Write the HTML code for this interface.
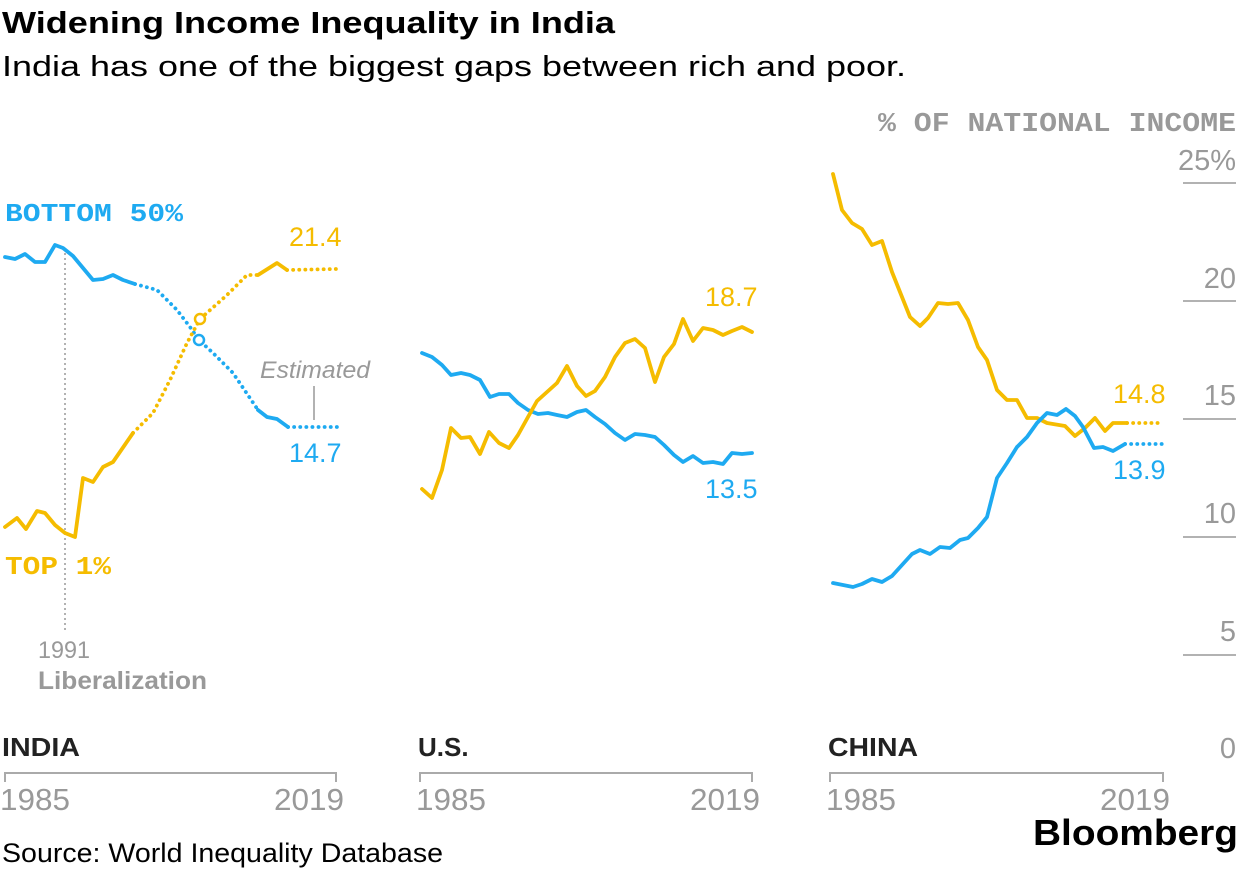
<!DOCTYPE html>
<html><head><meta charset="utf-8"><style>
html,body{margin:0;padding:0;background:#fff;width:1240px;height:870px;overflow:hidden}
text{font-family:"Liberation Sans",sans-serif}
.m{font-family:"Liberation Mono",monospace;font-weight:bold}
</style></head><body>
<svg width="1240" height="870" viewBox="0 0 1240 870" xmlns="http://www.w3.org/2000/svg">
<text x="2" y="33" font-size="31" font-weight="bold" fill="#000" textLength="613" lengthAdjust="spacingAndGlyphs">Widening Income Inequality in India</text>
<text x="2" y="76" font-size="29" fill="#000" textLength="904" lengthAdjust="spacingAndGlyphs">India has one of the biggest gaps between rich and poor.</text>
<text x="1236" y="131" font-size="27" class="m" fill="#999" text-anchor="end" font-weight="normal" textLength="358" lengthAdjust="spacingAndGlyphs">% OF NATIONAL INCOME</text>
<g fill="#999" font-size="29" text-anchor="end">
<text x="1236" y="170">25%</text><text x="1236" y="288">20</text><text x="1236" y="405">15</text><text x="1236" y="523">10</text><text x="1236" y="641">5</text><text x="1236" y="758">0</text>
</g>
<g stroke="#999" stroke-width="1.5">
<line x1="1183" y1="183" x2="1236" y2="183"/><line x1="1183" y1="301" x2="1236" y2="301"/><line x1="1183" y1="419" x2="1236" y2="419"/><line x1="1183" y1="537" x2="1236" y2="537"/><line x1="1183" y1="655" x2="1236" y2="655"/>
</g>
<g stroke="#aaa" stroke-width="2" fill="none">
<path d="M5 782V773H336V782"/><path d="M420 782V773H752V782"/><path d="M830 782V773H1163V782"/>
</g>
<g fill="#999" font-size="31">
<text x="0" y="810" textLength="70" lengthAdjust="spacingAndGlyphs">1985</text><text x="344" y="810" text-anchor="end" textLength="70" lengthAdjust="spacingAndGlyphs">2019</text>
<text x="416" y="810" textLength="70" lengthAdjust="spacingAndGlyphs">1985</text><text x="760" y="810" text-anchor="end" textLength="70" lengthAdjust="spacingAndGlyphs">2019</text>
<text x="826" y="810" textLength="70" lengthAdjust="spacingAndGlyphs">1985</text><text x="1170" y="810" text-anchor="end" textLength="70" lengthAdjust="spacingAndGlyphs">2019</text>
</g>
<g fill="#222" font-size="26" font-weight="bold">
<text x="2" y="756" textLength="78" lengthAdjust="spacingAndGlyphs">INDIA</text><text x="418" y="756">U.S.</text><text x="828" y="756" textLength="90" lengthAdjust="spacingAndGlyphs">CHINA</text>
</g>
<text x="2" y="862" font-size="27" fill="#000" textLength="441" lengthAdjust="spacingAndGlyphs">Source: World Inequality Database</text>
<text x="1238" y="845" font-size="36" font-weight="bold" fill="#000" text-anchor="end" textLength="205" lengthAdjust="spacingAndGlyphs">Bloomberg</text>
<line x1="65" y1="248" x2="65" y2="630" stroke="#999" stroke-width="1.5" stroke-dasharray="2 3"/>
<text x="38" y="658" font-size="24" fill="#999" textLength="52" lengthAdjust="spacingAndGlyphs">1991</text>
<text x="38" y="689" font-size="25" font-weight="bold" fill="#999" textLength="169" lengthAdjust="spacingAndGlyphs">Liberalization</text>
<text x="5" y="221" font-size="26" class="m" fill="#1eaaf1" textLength="178" lengthAdjust="spacingAndGlyphs">BOTTOM 50%</text>
<text x="5" y="574" font-size="26" class="m" fill="#f5bc00" textLength="106" lengthAdjust="spacingAndGlyphs">TOP 1%</text>
<text x="260" y="378" font-size="24" font-style="italic" fill="#999" textLength="110" lengthAdjust="spacingAndGlyphs">Estimated</text>
<line x1="314" y1="386" x2="314" y2="420" stroke="#999" stroke-width="1.5"/>
<text x="289" y="246" font-size="27" fill="#f5bc00">21.4</text>
<text x="289" y="462" font-size="27" fill="#1eaaf1">14.7</text>
<g fill="none" stroke-width="3.8" stroke-linejoin="round" stroke-linecap="round">
<polyline stroke="#1eaaf1" points="5,257 15,259 25,254 35,262 45,262 55,245 63,248 73,256 93,280 103,279 113,275 123,280 135,284"/>
<polyline stroke="#1eaaf1" stroke-dasharray="0.1 6" points="135,284 157,290 177,310 190,327 199,340 213,353 233,373 258,410"/>
<polyline stroke="#1eaaf1" points="258,410 267,417 277,419 288,427"/>
<polyline stroke="#1eaaf1" stroke-dasharray="0.1 6" points="288,427 337,427"/>
<polyline stroke="#f5bc00" points="5,527 17,518 26,529 37,511 45,513 55,525 65,533 75,537 83,478 93,482 103,467 113,462 133,433"/>
<polyline stroke="#f5bc00" stroke-dasharray="0.1 6" points="133,433 153,413 170,380 187,343 200,319 227,295 247,275 258,275"/>
<polyline stroke="#f5bc00" points="258,275 277,263 287,270"/>
<polyline stroke="#f5bc00" stroke-dasharray="0.1 6" points="287,270 337,269"/>
</g>
<circle cx="200" cy="319" r="5" fill="#fff" stroke="#f5bc00" stroke-width="2.5"/>
<circle cx="199" cy="340" r="5" fill="#fff" stroke="#1eaaf1" stroke-width="2.5"/>
<text x="705" y="306" font-size="27" fill="#f5bc00">18.7</text>
<text x="705" y="498" font-size="27" fill="#1eaaf1">13.5</text>
<g fill="none" stroke-width="3.8" stroke-linejoin="round" stroke-linecap="round">
<polyline stroke="#1eaaf1" points="422,353 432,357 442,365 451,375 461,373 470,375 480,380 490,397 499,394 509,394 518,403 528,410 538,414 548,413 557,415 567,417 577,412 586,410 595,417 605,424 615,433 625,440 635,434 645,435 655,437 664,445 674,455 683,462 693,456 703,463 713,462 723,464 732,453 742,454 752,453"/>
<polyline stroke="#f5bc00" points="422,489 432,498 442,470 451,428 461,438 470,437 480,454 489,432 499,443 509,448 518,435 528,417 537,401 547,392 557,383 567,366 577,386 586,396 595,391 605,377 615,357 625,343 635,339 645,348 655,382 664,357 674,344 683,319 693,341 703,328 713,330 723,335 732,331 742,327 752,332"/>
</g>
<text x="1113" y="403" font-size="27" fill="#f5bc00">14.8</text>
<text x="1113" y="479" font-size="27" fill="#1eaaf1">13.9</text>
<g fill="none" stroke-width="3.8" stroke-linejoin="round" stroke-linecap="round">
<polyline stroke="#f5bc00" points="833,174 842,210 852,223 862,229 872,245 882,241 892,272 910,317 920,326 928,318 938,303 948,304 958,303 968,320 978,347 987,360 997,390 1007,400 1017,400 1027,418 1037,418 1047,423 1065,426 1075,436 1085,428 1095,418 1105,431 1113,423 1127,423"/>
<polyline stroke="#f5bc00" stroke-dasharray="0.1 6" points="1127,423 1163,423"/>
<polyline stroke="#1eaaf1" points="833,583 843,585 853,587 862,584 872,579 882,582 892,576 902,565 912,554 920,550 930,554 940,547 950,548 960,540 968,538 978,528 987,517 997,478 1007,463 1017,447 1027,437 1037,423 1047,413 1057,415 1066,409 1075,416 1083,427 1094,448 1103,447 1113,451 1125,444"/>
<polyline stroke="#1eaaf1" stroke-dasharray="0.1 6" points="1125,444 1163,444"/>
</g>
</svg>
</body></html>
